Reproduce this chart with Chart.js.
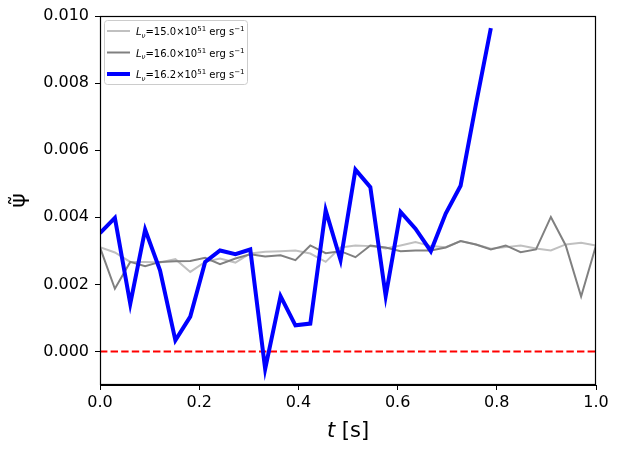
<!DOCTYPE html>
<html>
<head>
<meta charset="utf-8">
<script src="https://cdn.jsdelivr.net/npm/chart.js@4.4.0/dist/chart.umd.min.js"></script>
<style>
  body { margin: 0; background: #fff; }
  canvas { display: block; }
</style>
</head>
<body>
<canvas id="psi-chart" width="619" height="450"></canvas>
<script>
// time grid [s]
const times = [0.000, 0.030, 0.061, 0.091, 0.121, 0.152, 0.182, 0.212, 0.242, 0.273,
  0.303, 0.333, 0.364, 0.394, 0.424, 0.455, 0.485, 0.515, 0.545, 0.576,
  0.606, 0.636, 0.667, 0.697, 0.727, 0.758, 0.788, 0.818, 0.848, 0.879,
  0.909, 0.939, 0.970, 1.000];

// psi tilde for each luminosity
const psiL150 = [0.00311, 0.00295, 0.00267, 0.00267, 0.00265, 0.00275, 0.00237, 0.00267, 0.00277, 0.00265,
  0.00292, 0.00297, 0.00299, 0.00301, 0.00292, 0.00267, 0.00310, 0.00316, 0.00314, 0.00307,
  0.00316, 0.00326, 0.00314, 0.00311, 0.00329, 0.00319, 0.00306, 0.00311, 0.00316, 0.00307,
  0.00301, 0.00319, 0.00324, 0.00316];
const psiL160 = [0.00310, 0.00187, 0.00267, 0.00254, 0.00267, 0.00269, 0.00270, 0.00279, 0.00260, 0.00277,
  0.00290, 0.00283, 0.00287, 0.00272, 0.00316, 0.00293, 0.00299, 0.00281, 0.00316, 0.00310,
  0.00299, 0.00301, 0.00301, 0.00310, 0.00329, 0.00319, 0.00304, 0.00316, 0.00296, 0.00304,
  0.00401, 0.00316, 0.00164, 0.00316];
const psiL162 = [0.00353, 0.00398, 0.00142, 0.00363, 0.00242, 0.00033, 0.00104, 0.00267, 0.00301, 0.00290,
  0.00304, -0.00052, 0.00165, 0.00078, 0.00083, 0.00421, 0.00272, 0.00542, 0.00490, 0.00165,
  0.00416, 0.00366, 0.00299, 0.00411, 0.00494, 0.00737, 0.00964];

const lumLabels = ['15.0', '16.0', '16.2'];
const xTicks = [0.0, 0.2, 0.4, 0.6, 0.8, 1.0];
const yTicks = [0.000, 0.002, 0.004, 0.006, 0.008, 0.010];

const FONT = "'DejaVu Sans', sans-serif";

function toPoints(vals) {
  return vals.map((v, i) => ({ x: times[i], y: v }));
}

// draws a run of text pieces with different fonts / offsets, returns width
function drawPieces(ctx, x, y, pieces) {
  let cx = x;
  pieces.forEach(p => {
    ctx.font = p.f;
    ctx.fillText(p.t, cx, y + (p.dy || 0));
    cx += ctx.measureText(p.t).width;
  });
  return cx - x;
}

const extrasPlugin = {
  id: 'extras',
  afterDatasetsDraw(chart) {
    const ctx = chart.ctx;
    const a = chart.chartArea;
    ctx.save();

    // legend box
    const bx = 104.5, by = 20.5, bw = 143, bh = 64;
    ctx.beginPath();
    ctx.roundRect(bx, by, bw, bh, 3);
    ctx.fillStyle = 'rgba(255,255,255,0.8)';
    ctx.fill();
    ctx.strokeStyle = '#cccccc';
    ctx.lineWidth = 1;
    ctx.stroke();

    const ds = chart.data.datasets;
    const rows = [ds[2], ds[1], ds[0]];
    const rowY = [31, 52.5, 74];
    rows.forEach((d, i) => {
      ctx.beginPath();
      ctx.strokeStyle = d.borderColor;
      ctx.lineWidth = d.borderWidth;
      ctx.moveTo(107, rowY[i]);
      ctx.lineTo(130, rowY[i]);
      ctx.stroke();
      ctx.fillStyle = '#000';
      ctx.textBaseline = 'alphabetic';
      ctx.textAlign = 'left';
      drawPieces(ctx, 136, rowY[i] + 4, [
        { t: 'L', f: 'italic 10px ' + FONT },
        { t: 'ν', f: 'italic 7px ' + FONT, dy: 2.5 },
        { t: '=' + lumLabels[i] + '×10', f: '10px ' + FONT },
        { t: '51', f: '7px ' + FONT, dy: -4 },
        { t: ' erg s', f: '10px ' + FONT },
        { t: '−1', f: '7px ' + FONT, dy: -4 }
      ]);
    });

    // full frame
    ctx.strokeStyle = '#000';
    ctx.lineWidth = 1.2;
    ctx.strokeRect(a.left + 0.5, a.top + 0.5, a.right - a.left - 1, a.bottom - a.top - 1);

    // x axis title with italic t
    ctx.fillStyle = '#000';
    ctx.textBaseline = 'alphabetic';
    ctx.font = 'italic 21px ' + FONT;
    const w1 = ctx.measureText('t').width;
    ctx.font = '21px ' + FONT;
    const w2 = ctx.measureText(' [s]').width;
    const cx = (a.left + a.right) / 2;
    drawPieces(ctx, cx - (w1 + w2) / 2, 437, [
      { t: 't', f: 'italic 21px ' + FONT },
      { t: ' [s]', f: '21px ' + FONT }
    ]);

    // y axis title
    ctx.translate(19, (a.top + a.bottom) / 2);
    ctx.rotate(-Math.PI / 2);
    ctx.textAlign = 'center';
    ctx.textBaseline = 'middle';
    ctx.font = '22px ' + FONT;
    ctx.fillText('ψ̃', 0, 0);
    ctx.restore();
  }
};

const ctx = document.getElementById('psi-chart');

new Chart(ctx, {
  type: 'line',
  data: {
    datasets: [
      {
        label: 'L=16.2',
        data: toPoints(psiL162),
        borderColor: '#0000ff',
        borderWidth: 4,
        pointRadius: 0,
        tension: 0
      },
      {
        label: 'L=16.0',
        data: toPoints(psiL160),
        borderColor: '#808080',
        borderWidth: 2,
        pointRadius: 0,
        tension: 0
      },
      {
        label: 'L=15.0',
        data: toPoints(psiL150),
        borderColor: '#c0c0c0',
        borderWidth: 2,
        pointRadius: 0,
        tension: 0
      },
      {
        label: 'zero',
        data: [{ x: 0, y: 0 }, { x: 1, y: 0 }],
        borderColor: '#ff0000',
        borderWidth: 2,
        borderDash: [7.4, 3.2],
        pointRadius: 0
      }
    ]
  },
  options: {
    responsive: false,
    animation: false,
    layout: { padding: { top: 16, right: 23, left: 0, bottom: 0 } },
    plugins: {
      legend: { display: false },
      tooltip: { enabled: false }
    },
    scales: {
      x: {
        type: 'linear',
        min: 0,
        max: 1,
        afterBuildTicks: scale => { scale.ticks = xTicks.map(v => ({ value: v })); },
        afterFit: scale => { scale.height = 65; },
        ticks: {
          callback: v => v.toFixed(1),
          font: { family: FONT, size: 16 },
          color: '#000',
          padding: 3,
          maxRotation: 0
        },
        grid: { drawOnChartArea: false, drawTicks: true, tickLength: 5, tickColor: '#000' },
        border: { display: true, color: '#000', width: 1 }
      },
      y: {
        type: 'linear',
        min: -0.001,
        max: 0.010,
        afterBuildTicks: scale => { scale.ticks = yTicks.map(v => ({ value: v })); },
        afterFit: scale => { scale.width = 100; },
        ticks: {
          callback: v => v.toFixed(3),
          font: { family: FONT, size: 16 },
          color: '#000',
          padding: 6
        },
        grid: { drawOnChartArea: false, drawTicks: true, tickLength: 5, tickColor: '#000' },
        border: { display: true, color: '#000', width: 1 }
      }
    }
  },
  plugins: [extrasPlugin]
});
</script>
</body>
</html>
